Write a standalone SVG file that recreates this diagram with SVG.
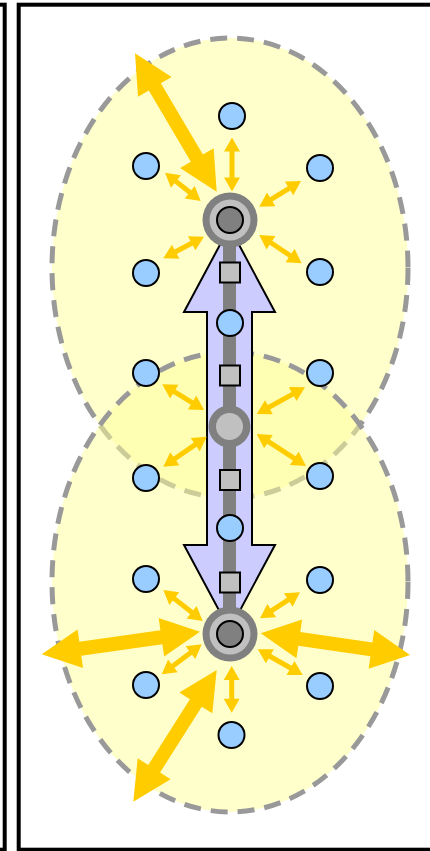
<svg xmlns="http://www.w3.org/2000/svg" width="430" height="851" viewBox="0 0 430 851">
<style>
.frame{fill:none;stroke:#000;stroke-width:4}
.zone{fill:#ffff99;fill-opacity:0.5;stroke:#999999;stroke-width:5;stroke-dasharray:17 10}
.ya{fill:#ffcc00}
.blue{fill:#99ccff;stroke:#000;stroke-width:2}
.sq{fill:#c0c0c0;stroke:#000;stroke-width:2}
.outer{fill:#808080}
.ring{fill:#c0c0c0}
.core{fill:#808080;stroke:#000;stroke-width:2}
</style>
<rect width="430" height="851" fill="#ffffff"/>
<rect class="frame" x="-100" y="4.7" width="104.7" height="845"/>
<rect class="frame" x="18.7" y="4.7" width="420" height="845"/>
<g id="zones">
<ellipse class="zone" cx="230" cy="268" rx="178" ry="230"/>
<ellipse class="zone" cx="230" cy="582" rx="178" ry="230"/>
</g>
<g id="backbone">
<polygon points="229.5,227 275,312 252,312 252,545 275,545 229.5,630 184,545 207,545 207,312 184,312" fill="#ccccff" stroke="#000" stroke-width="2" stroke-linejoin="miter"/>
<line x1="229.5" y1="220" x2="229.5" y2="634" stroke="#808080" stroke-width="13"/>
</g>
<g id="relays">
<rect class="sq" x="220" y="262.5" width="20" height="20"/>
<rect class="sq" x="220" y="365.5" width="20" height="20"/>
<rect class="sq" x="220" y="470" width="20" height="20"/>
<rect class="sq" x="220" y="572.5" width="20" height="20"/>
</g>
<g id="clients">
<circle class="blue" cx="232" cy="116" r="13"/>
<circle class="blue" cx="146" cy="166" r="13"/>
<circle class="blue" cx="320" cy="168" r="13"/>
<circle class="blue" cx="146" cy="273" r="13"/>
<circle class="blue" cx="320" cy="272" r="13"/>
<circle class="blue" cx="230" cy="323" r="13"/>
<circle class="blue" cx="146" cy="373" r="13"/>
<circle class="blue" cx="320" cy="373" r="13"/>
<circle class="blue" cx="146" cy="478" r="13"/>
<circle class="blue" cx="320" cy="476" r="13"/>
<circle class="blue" cx="230" cy="528" r="13"/>
<circle class="blue" cx="146" cy="579" r="13"/>
<circle class="blue" cx="320" cy="580" r="13"/>
<circle class="blue" cx="146" cy="685" r="13"/>
<circle class="blue" cx="320" cy="686" r="13"/>
<circle class="blue" cx="231.5" cy="735" r="13"/>
</g>
<g id="node-top">
<circle class="outer" cx="230" cy="220" r="27.5"/>
<circle class="ring" cx="230" cy="220" r="20.5"/>
<circle class="core" cx="230" cy="220" r="13"/>
</g>
<g id="node-middle">
<circle class="outer" cx="229.5" cy="426.5" r="21"/>
<circle class="ring" cx="229.5" cy="426.5" r="13.5"/>
</g>
<g id="node-bottom">
<circle class="outer" cx="230" cy="634" r="27.5"/>
<circle class="ring" cx="230" cy="634" r="20.5"/>
<circle class="core" cx="230" cy="634" r="13"/>
</g>
<g id="connectors" class="ya">
<polygon transform="translate(232,137.5) rotate(90)" points="0,0 14,-8 14,-2.5 40,-2.5 40,-8 54,0 40,8 40,2.5 14,2.5 14,8"/>
<polygon transform="translate(165,172.7) rotate(38.4)" points="0,0 14,-8 14,-2.5 31.6,-2.5 31.6,-8 45.6,0 31.6,8 31.6,2.5 14,2.5 14,8"/>
<polygon transform="translate(301,181) rotate(148.4)" points="0,0 14,-8 14,-2.5 35,-2.5 35,-8 49,0 35,8 35,2.5 14,2.5 14,8"/>
<polygon transform="translate(163.3,258.3) rotate(-28)" points="0,0 14,-8 14,-2.5 32.1,-2.5 32.1,-8 46.1,0 32.1,8 32.1,2.5 14,2.5 14,8"/>
<polygon transform="translate(259.3,235) rotate(33.7)" points="0,0 14,-8 14,-2.5 37,-2.5 37,-8 51,0 37,8 37,2.5 14,2.5 14,8"/>
<polygon transform="translate(162.3,384.3) rotate(31.6)" points="0,0 14,-8 14,-2.5 35,-2.5 35,-8 49,0 35,8 35,2.5 14,2.5 14,8"/>
<polygon transform="translate(163.3,466.7) rotate(-34.65)" points="0,0 14,-8 14,-2.5 38.8,-2.5 38.8,-8 52.8,0 38.8,8 38.8,2.5 14,2.5 14,8"/>
<polygon transform="translate(305,387.3) rotate(151.06)" points="0,0 14,-8 14,-2.5 41.2,-2.5 41.2,-8 55.2,0 41.2,8 41.2,2.5 14,2.5 14,8"/>
<polygon transform="translate(256.7,434) rotate(33)" points="0,0 14,-8 14,-2.5 44.8,-2.5 44.8,-8 58.8,0 44.8,8 44.8,2.5 14,2.5 14,8"/>
<polygon transform="translate(163.3,590) rotate(38.2)" points="0,0 14,-8 14,-2.5 36.1,-2.5 36.1,-8 50.1,0 36.1,8 36.1,2.5 14,2.5 14,8"/>
<polygon transform="translate(300,592.3) rotate(147)" points="0,0 14,-8 14,-2.5 33.7,-2.5 33.7,-8 47.7,0 33.7,8 33.7,2.5 14,2.5 14,8"/>
<polygon transform="translate(161.7,674.3) rotate(-36.87)" points="0,0 14,-8 14,-2.5 36,-2.5 36,-8 50,0 36,8 36,2.5 14,2.5 14,8"/>
<polygon transform="translate(257.7,649.3) rotate(29.7)" points="0,0 14,-8 14,-2.5 37.8,-2.5 37.8,-8 51.8,0 37.8,8 37.8,2.5 14,2.5 14,8"/>
<polygon transform="translate(231.7,666) rotate(90)" points="0,0 14,-8 14,-2.5 32.7,-2.5 32.7,-8 46.7,0 32.7,8 32.7,2.5 14,2.5 14,8"/>
<polygon transform="translate(135,53.3) rotate(59.44)" points="0,0 39,-19.5 39,-7 121.7,-7 121.7,-19.5 160.7,0 121.7,19.5 121.7,7 39,7 39,19.5"/>
<polygon transform="translate(41.7,654.3) rotate(-8.125)" points="0,0 39,-19.5 39,-7 120.9,-7 120.9,-19.5 159.9,0 120.9,19.5 120.9,7 39,7 39,19.5"/>
<polygon transform="translate(260.7,633.3) rotate(8.27)" points="0,0 39,-19.5 39,-7 111.9,-7 111.9,-19.5 150.9,0 111.9,19.5 111.9,7 39,7 39,19.5"/>
<polygon transform="translate(133.3,801.7) rotate(-57.66)" points="0,0 39,-19.5 39,-7 116.9,-7 116.9,-19.5 155.9,0 116.9,19.5 116.9,7 39,7 39,19.5"/>
</g>
</svg>
